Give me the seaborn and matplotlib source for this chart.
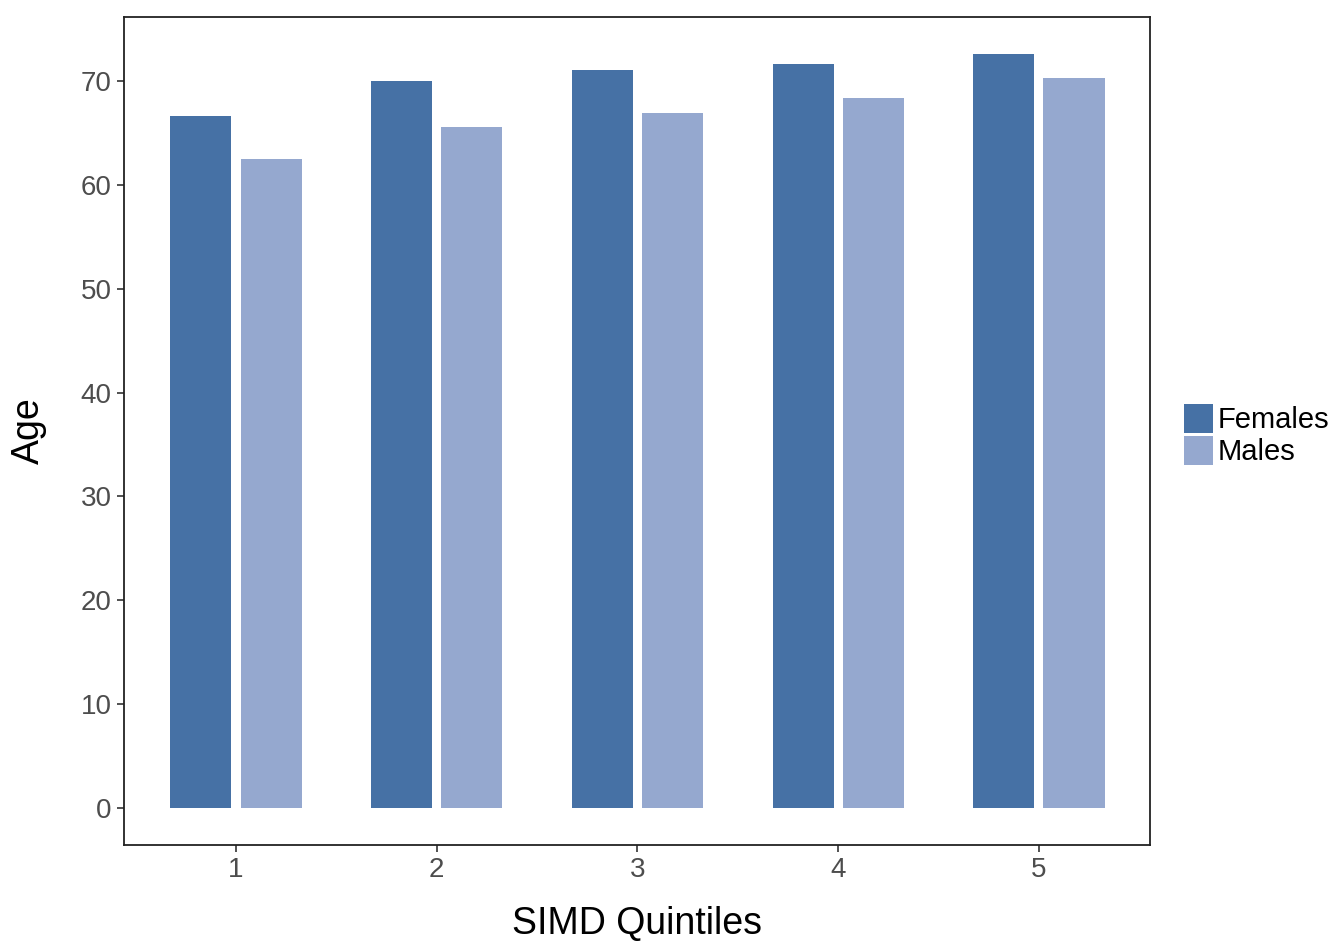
import matplotlib
matplotlib.use("Agg")
import matplotlib.pyplot as plt
import pandas as pd
import seaborn as sns

quintiles = ["1", "2", "3", "4", "5"]
females = [66.6, 70.0, 71.05, 71.6, 72.6]
males = [62.5, 65.6, 66.9, 68.4, 70.3]
groups = ["Females", "Males"]
colors = ["#4671A5", "#95A8CF"]

df = pd.DataFrame({
    "quintile": quintiles * 2,
    "age": females + males,
    "sex": [groups[0]] * len(quintiles) + [groups[1]] * len(quintiles),
})

sns.set_style("white")
plt.rcParams["font.family"] = ["Liberation Sans", "DejaVu Sans"]

fig = plt.figure(figsize=(13.34, 9.43), dpi=100)
ax = fig.add_axes([0.093, 0.104, 0.769, 0.878])

sns.barplot(
    data=df, x="quintile", y="age", hue="sex", order=quintiles,
    hue_order=groups, palette=colors, width=0.7, gap=0.13,
    saturation=1, errorbar=None, linewidth=0, ax=ax,
)

ax.set_xlim(-0.558, 4.553)
ax.set_ylim(-3.56, 76.16)
ax.set_yticks(range(0, 71, 10))
ax.set_xlabel("SIMD Quintiles", fontsize=27, color="black", labelpad=16)
ax.set_ylabel("Age", fontsize=27, color="black", labelpad=24)
ax.tick_params(axis="both", labelsize=20, labelcolor="#4D4D4D", color="#333333",
               length=5, width=1.2, direction="out", bottom=True, left=True, pad=4)
for s in ax.spines.values():
    s.set_color("#222222")
    s.set_linewidth(1.3)

handles, labels = ax.get_legend_handles_labels()
leg = ax.legend(handles, labels, loc="center left", bbox_to_anchor=(1.016, 0.495),
                frameon=False, fontsize=21, handlelength=1.0, handleheight=1.15,
                handletextpad=0.15, labelspacing=0.05, borderaxespad=0.2)
for t in leg.get_texts():
    t.set_color("black")

fig.savefig("out.png", dpi=100)
